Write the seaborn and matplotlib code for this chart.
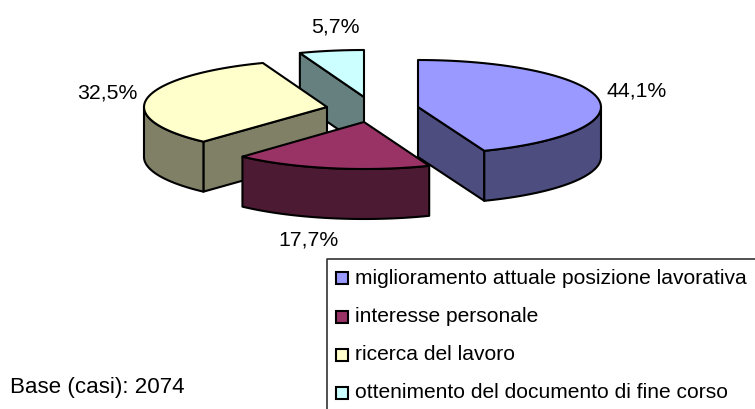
import numpy as np
import matplotlib
matplotlib.use("Agg")
import matplotlib.pyplot as plt
from matplotlib.patches import Polygon, Rectangle
import seaborn as sns

categories = ["miglioramento attuale posizione lavorativa", "interesse personale",
              "ricerca del lavoro", "ottenimento del documento di fine corso"]
values = [44.1, 17.7, 32.5, 5.7]
value_labels = ["44,1%", "17,7%", "32,5%", "5,7%"]
base_note = "Base (casi): 2074"
top_colors = ["#9999FF", "#993366", "#FFFFCC", "#CCFFFF"]
side_colors = ["#4D4D80", "#4D1A33", "#808066", "#668080"]

# layout (pixels)
apex_x = [418, 364, 327, 364]
apex_y = [107, 122, 107, 97]
radius_x = [183, 180, 183, 183]
RY, DEPTH = 47, 50
label_xy = [(637, 91), (309, 240), (107, 93), (335, 27)]
draw_order = [3, 2, 0, 1]

sns.set_theme(style="white")
plt.rcParams["font.family"] = ["Liberation Sans", "DejaVu Sans"]

fig = plt.figure(figsize=(7.55, 4.09), dpi=100, facecolor="white")
ax = fig.add_axes([0, 0, 1, 1])
ax.set_xlim(0, 755)
ax.set_ylim(409, 0)
ax.axis("off")

LW = 1.5
ends = np.cumsum(values) / np.sum(values) * 360
starts = np.r_[0, ends[:-1]]


def rim(i, a, b, n=60):
    t = np.radians(np.linspace(a, b, n))
    return np.c_[apex_x[i] + radius_x[i] * np.sin(t), apex_y[i] - RY * np.cos(t)]


def add(points, color, z):
    ax.add_patch(Polygon(points, closed=True, facecolor=color, edgecolor="black",
                         linewidth=LW, joinstyle="round", zorder=z))


for z, i in enumerate(draw_order):
    s, e = starts[i], ends[i]
    apex = np.array([[apex_x[i], apex_y[i]]])
    down = np.array([0, DEPTH])
    zb = 10 * (z + 1)
    # radial faces that look towards the viewer
    for ang, vis in ((s, 180 < s < 360), (e, 0 < e < 180)):
        if vis:
            p = rim(i, ang, ang, 1)
            add(np.vstack([apex, p, p + down, apex + down]), side_colors[i], zb)
    # front part of the outer rim
    a, b = max(s, 90), min(e, 270)
    if a < b:
        r = rim(i, a, b)
        add(np.vstack([r, (r + down)[::-1]]), side_colors[i], zb + 1)
    # top face
    add(np.vstack([apex, rim(i, s, e)]), top_colors[i], zb + 2)

for (x, y), t in zip(label_xy, value_labels):
    ax.text(x, y, t, ha="center", va="center", fontsize=15.3, color="black")

# legend box: open at the bottom and right, cropped by the image edge
ax.plot([327, 327, 755], [409, 258.5, 258.5], color="#333333", lw=1.2, clip_on=True, zorder=100)
legend_y = [278, 317, 355, 393]
for y, c, t in zip(legend_y, top_colors, categories):
    ax.add_patch(Rectangle((335.5, y - 6), 12, 12, facecolor=c, edgecolor="black", lw=1.5, zorder=101))
    ax.text(355, y, t, ha="left", va="center", fontsize=15.15, color="black", zorder=101)

ax.text(10, 387, base_note, ha="left", va="center", fontsize=16.1, color="black")
fig.savefig("out.png", dpi=100, facecolor="white")
